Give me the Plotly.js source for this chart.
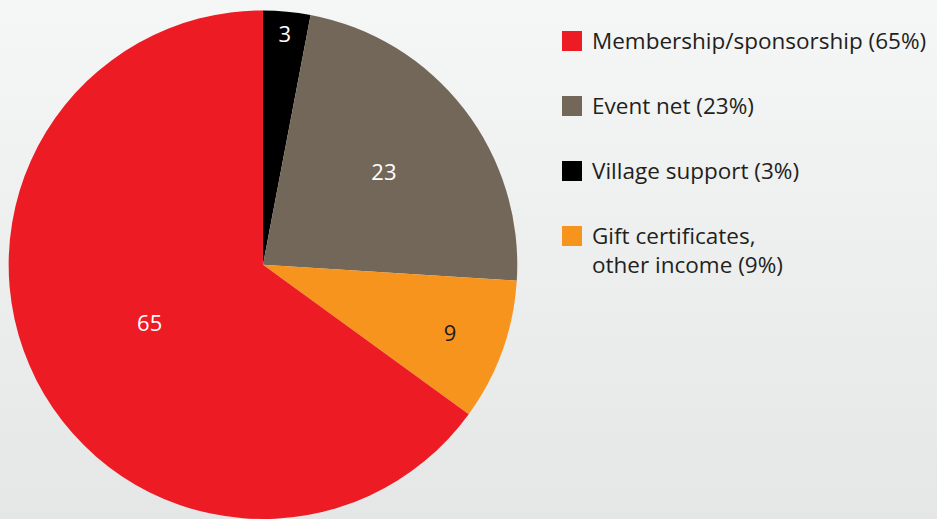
<!DOCTYPE html>
<html>
<head>
<meta charset="utf-8">
<script src="https://cdn.plot.ly/plotly-3.0.1.min.js"></script>
<style>
html,body{margin:0;padding:0;}
body{background:linear-gradient(to bottom,#f5f6f6 0%,#e5e7e7 100%);width:937px;height:519px;overflow:hidden;}
#chart{width:937px;height:519px;}
</style>
</head>
<body>
<div id="chart"></div>
<script>
// Slice order clockwise from 12 o'clock
var sliceLabels = ["Village support", "Event net", "Gift certificates, other income", "Membership/sponsorship"];
var sliceValues = [3, 23, 9, 65];
var sliceColors = ["#000000", "#736759", "#f7941e", "#ed1c24"];
var sliceTextColors = ["#ffffff", "#ffffff", "#1a1a1a", "#ffffff"];

// Legend order as shown
var legendOrder = [3, 1, 0, 2];
var legendTexts = ["Membership/sponsorship (65%)", "Event net (23%)", "Village support (3%)", "Gift certificates,<br>other income (9%)"];

var FONT = "Open Sans, sans-serif";
var LEGSIZE = 22.5;

var trace = {
  type: "pie",
  labels: sliceLabels,
  values: sliceValues,
  sort: false,
  direction: "clockwise",
  rotation: 0,
  marker: {colors: sliceColors, line: {width: 0}},
  textinfo: "value",
  textposition: "inside",
  insidetextorientation: "horizontal",
  textfont: {family: FONT, size: 22, color: sliceTextColors},
  showlegend: false,
  hoverinfo: "label+value",
  domain: {x: [0.0085, 0.5528], y: [0, 0.98]}
};

var shapes = [], annotations = [];
var legX = 562, legY0 = 41, legStep = 65, sq = 20;
legendOrder.forEach(function(idx, i){
  var cy = legY0 + i * legStep;
  shapes.push({type: "rect", xref: "paper", yref: "paper",
    x0: legX / 937, x1: (legX + sq) / 937,
    y0: 1 - (cy + sq / 2) / 519, y1: 1 - (cy - sq / 2) / 519,
    fillcolor: sliceColors[idx], line: {width: 0}});
  annotations.push({xref: "paper", yref: "paper", x: 590 / 937, y: 1 - (cy - 18) / 519,
    xanchor: "left", yanchor: "top", align: "left", showarrow: false,
    text: legendTexts[i],
    font: {family: FONT, size: LEGSIZE, color: "#231f20"}});
});

var layout = {
  width: 937, height: 519,
  margin: {l: 0, r: 0, t: 0, b: 0},
  paper_bgcolor: "rgba(0,0,0,0)",
  plot_bgcolor: "rgba(0,0,0,0)",
  showlegend: false,
  shapes: shapes,
  annotations: annotations
};

Plotly.newPlot("chart", [trace], layout, {displayModeBar: false, staticPlot: true});
</script>
</body>
</html>
